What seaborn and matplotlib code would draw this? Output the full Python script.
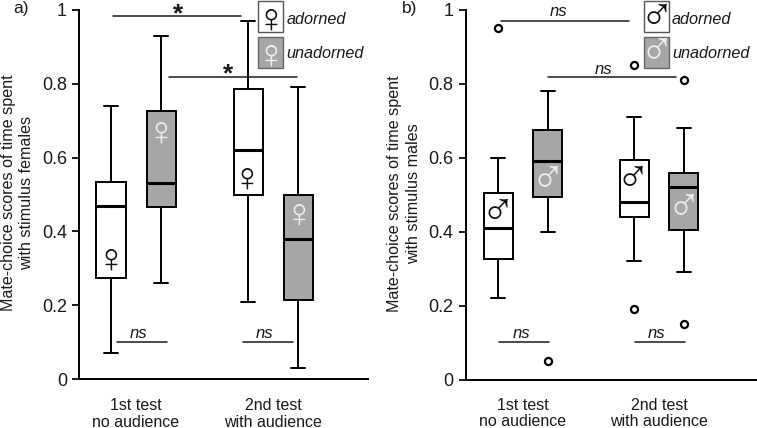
"""
Mate-choice scores of time spent with stimulus females / males
"""

import matplotlib
matplotlib.use("Agg")
import matplotlib.pyplot as plt
import pandas as pd
import seaborn as sns
from matplotlib.lines import Line2D
from matplotlib.patches import Rectangle

W, H = 757, 428

tests = ["1st test\nno audience", "2nd test\nwith audience"]
treatments = ["adorned", "unadorned"]

# min, q1, median, q3, max
fem_adorned_1st = [0.07, 0.275, 0.47, 0.535, 0.74]
fem_unadorned_1st = [0.26, 0.465, 0.53, 0.725, 0.93]
fem_adorned_2nd = [0.21, 0.50, 0.62, 0.785, 0.97]
fem_unadorned_2nd = [0.03, 0.215, 0.38, 0.50, 0.79]

male_adorned_1st = [0.22, 0.325, 0.41, 0.505, 0.60]
male_unadorned_1st = [0.40, 0.495, 0.59, 0.675, 0.78]
male_adorned_2nd = [0.32, 0.44, 0.48, 0.595, 0.71]
male_unadorned_2nd = [0.29, 0.405, 0.52, 0.56, 0.68]

# outliers in panel b: (test index, treatment index, value)
male_outliers = [(0, 0, 0.95), (0, 1, 0.05), (1, 0, 0.85), (1, 0, 0.19), (1, 1, 0.81), (1, 1, 0.15)]

yticks = [0, 0.2, 0.4, 0.6, 0.8, 1]
ytick_labels = ["0", "0.2", "0.4", "0.6", "0.8", "1"]

GRAY = "#a6a6a6"
DODGE_WIDTH = 0.73
BOX_GAP = 0.42
FEMALE = "\u2640"
MALE = "\u2642"


def fx(px):
    return px / W


def fy(py):
    return 1 - py / H


def long_table(a1, u1, a2, u2):
    rows = []
    for test, treatment, vals in [(tests[0], treatments[0], a1), (tests[0], treatments[1], u1),
                                  (tests[1], treatments[0], a2), (tests[1], treatments[1], u2)]:
        for v in vals:
            rows.append({"test": test, "treatment": treatment, "score": v})
    return pd.DataFrame(rows)


def draw_panel(ax, df, xlim, xpad):
    sns.boxplot(data=df, x="test", y="score", hue="treatment", order=tests, hue_order=treatments,
                palette={"adorned": "white", "unadorned": GRAY}, whis=(0, 100),
                width=DODGE_WIDTH, gap=BOX_GAP, linecolor="black", linewidth=1.4,
                medianprops={"linewidth": 2.2}, legend=False, ax=ax)
    ax.set_xlim(*xlim)
    ax.set_ylim(0, 1)
    ax.set_yticks(yticks, ytick_labels)
    ax.set_xlabel("")
    ax.set_ylabel("")
    ax.patch.set_alpha(0)
    ax.tick_params(axis="y", length=5.2, width=1.4, labelsize=13, pad=3.5, colors="#1a1a1a")
    ax.tick_params(axis="x", length=0, labelsize=11.5, pad=xpad, colors="#1a1a1a")
    for label in ax.get_xticklabels():
        label.set_linespacing(1.15)
    sns.despine(ax=ax)
    for side in ["left", "bottom"]:
        ax.spines[side].set_linewidth(1.4)
        ax.spines[side].set_color("black")


def hline(fig, x0, x1, y):
    fig.add_artist(Line2D([fx(x0), fx(x1)], [fy(y), fy(y)], color="#1a1a1a", lw=1.1, zorder=5))


def ftext(fig, x, y, s, **kw):
    kw.setdefault("ha", "center")
    kw.setdefault("va", "center")
    kw.setdefault("color", "#1a1a1a")
    fig.text(fx(x), fy(y), s, **kw)


def symbol(fig, x, y, s, color):
    # black symbols are drawn heavier than the white ones in the reference
    weight = "bold" if color == "#111111" else "normal"
    size = 29.5 if s == FEMALE else 33
    dy = 4 if s == FEMALE else 0
    fig.text(fx(x), fy(y + dy), s, family=["Liberation Sans", "DejaVu Sans"], fontsize=size, color=color,
             fontweight=weight, ha="center", va="center", zorder=6)


def legend_block(fig, x0, x1, s):
    for y0, y1, face, edge, col in [(1, 31.5, "white", "#555555", "#111111"),
                                    (36.7, 68.3, GRAY, "#666666", "#f0f0f0")]:
        fig.add_artist(Rectangle((fx(x0), fy(y1)), fx(x1 - x0), (y1 - y0) / H,
                                 facecolor=face, edgecolor=edge, lw=1.0, zorder=5))
        symbol(fig, (x0 + x1) / 2, (y0 + y1) / 2, s, col)
    ftext(fig, x1 + 3, 20, "adorned", ha="left", style="italic", fontsize=11.7)
    ftext(fig, x1 + 3, 54, "unadorned", ha="left", style="italic", fontsize=11.7)


def main():
    sns.set_style("ticks")
    plt.rcParams["font.family"] = ["Liberation Sans", "DejaVu Sans"]

    fig = plt.figure(figsize=(W / 100, H / 100), dpi=100)
    ax_a = fig.add_axes([fx(79), fy(379), 289 / W, 369 / H])
    ax_b = fig.add_axes([fx(465.7), fy(379.5), 291.3 / W, 369.5 / H])

    draw_panel(ax_a, long_table(fem_adorned_1st, fem_unadorned_1st, fem_adorned_2nd, fem_unadorned_2nd),
               (-0.416, 1.693), 13.5)
    draw_panel(ax_b, long_table(male_adorned_1st, male_unadorned_1st, male_adorned_2nd, male_unadorned_2nd),
               (-0.421, 1.72), 13)

    # outliers sit over their dodged boxes
    offset = DODGE_WIDTH / 4
    out = pd.DataFrame({
        "x": [t + (2 * h - 1) * offset for t, h, _ in male_outliers],
        "score": [v for _, _, v in male_outliers],
    })
    sns.scatterplot(data=out, x="x", y="score", marker="o", s=26, facecolor="white",
                    edgecolor="black", linewidth=1.6, clip_on=False, zorder=4, ax=ax_b)
    ax_b.set_xlabel("")
    ax_b.set_ylabel("")

    # panel letters and axis titles
    ftext(fig, 21, 9, "a)", fontsize=12.5)
    ftext(fig, 402, 9, "b)", fontsize=12.5, ha="left")
    ftext(fig, 17.5, 193, "Mate-choice scores of time spent\nwith stimulus females", rotation=90,
          fontsize=11.6, linespacing=1.28)
    ftext(fig, 404, 194, "Mate-choice scores of time spent\nwith stimulus males", rotation=90,
          fontsize=11.6, linespacing=1.28)

    # significance bars
    hline(fig, 112.7, 240.7, 16)
    ftext(fig, 178, 14, "*", fontsize=19, fontweight="bold")
    hline(fig, 169, 296.7, 77)
    ftext(fig, 227.7, 74, "*", fontsize=19, fontweight="bold")
    hline(fig, 116.7, 166.7, 342.3)
    ftext(fig, 139, 333, "ns", style="italic", fontsize=12)
    hline(fig, 243, 293, 342.3)
    ftext(fig, 265, 333, "ns", style="italic", fontsize=12)

    hline(fig, 500.7, 629, 20.7)
    ftext(fig, 558.7, 12, "ns", style="italic", fontsize=12)
    hline(fig, 548, 676, 77)
    ftext(fig, 604, 70, "ns", style="italic", fontsize=12)
    hline(fig, 499, 549, 342.3)
    ftext(fig, 521.7, 333, "ns", style="italic", fontsize=12)
    hline(fig, 635, 685, 342.3)
    ftext(fig, 657, 333, "ns", style="italic", fontsize=12)

    # sex symbols on the boxes
    for x, y, col in [(111, 257, "#111111"), (160.7, 130, "#eeeeee"),
                      (246.7, 176, "#111111"), (298.7, 212, "#eeeeee")]:
        symbol(fig, x, y, FEMALE, col)
    for x, y, col in [(498, 211, "#111111"), (548, 180, "#eeeeee"),
                      (633, 178, "#111111"), (684, 208, "#eeeeee")]:
        symbol(fig, x, y, MALE, col)

    legend_block(fig, 258.3, 283.3, FEMALE)
    legend_block(fig, 644, 669, MALE)

    fig.savefig("out.png", dpi=100)


if __name__ == "__main__":
    main()
